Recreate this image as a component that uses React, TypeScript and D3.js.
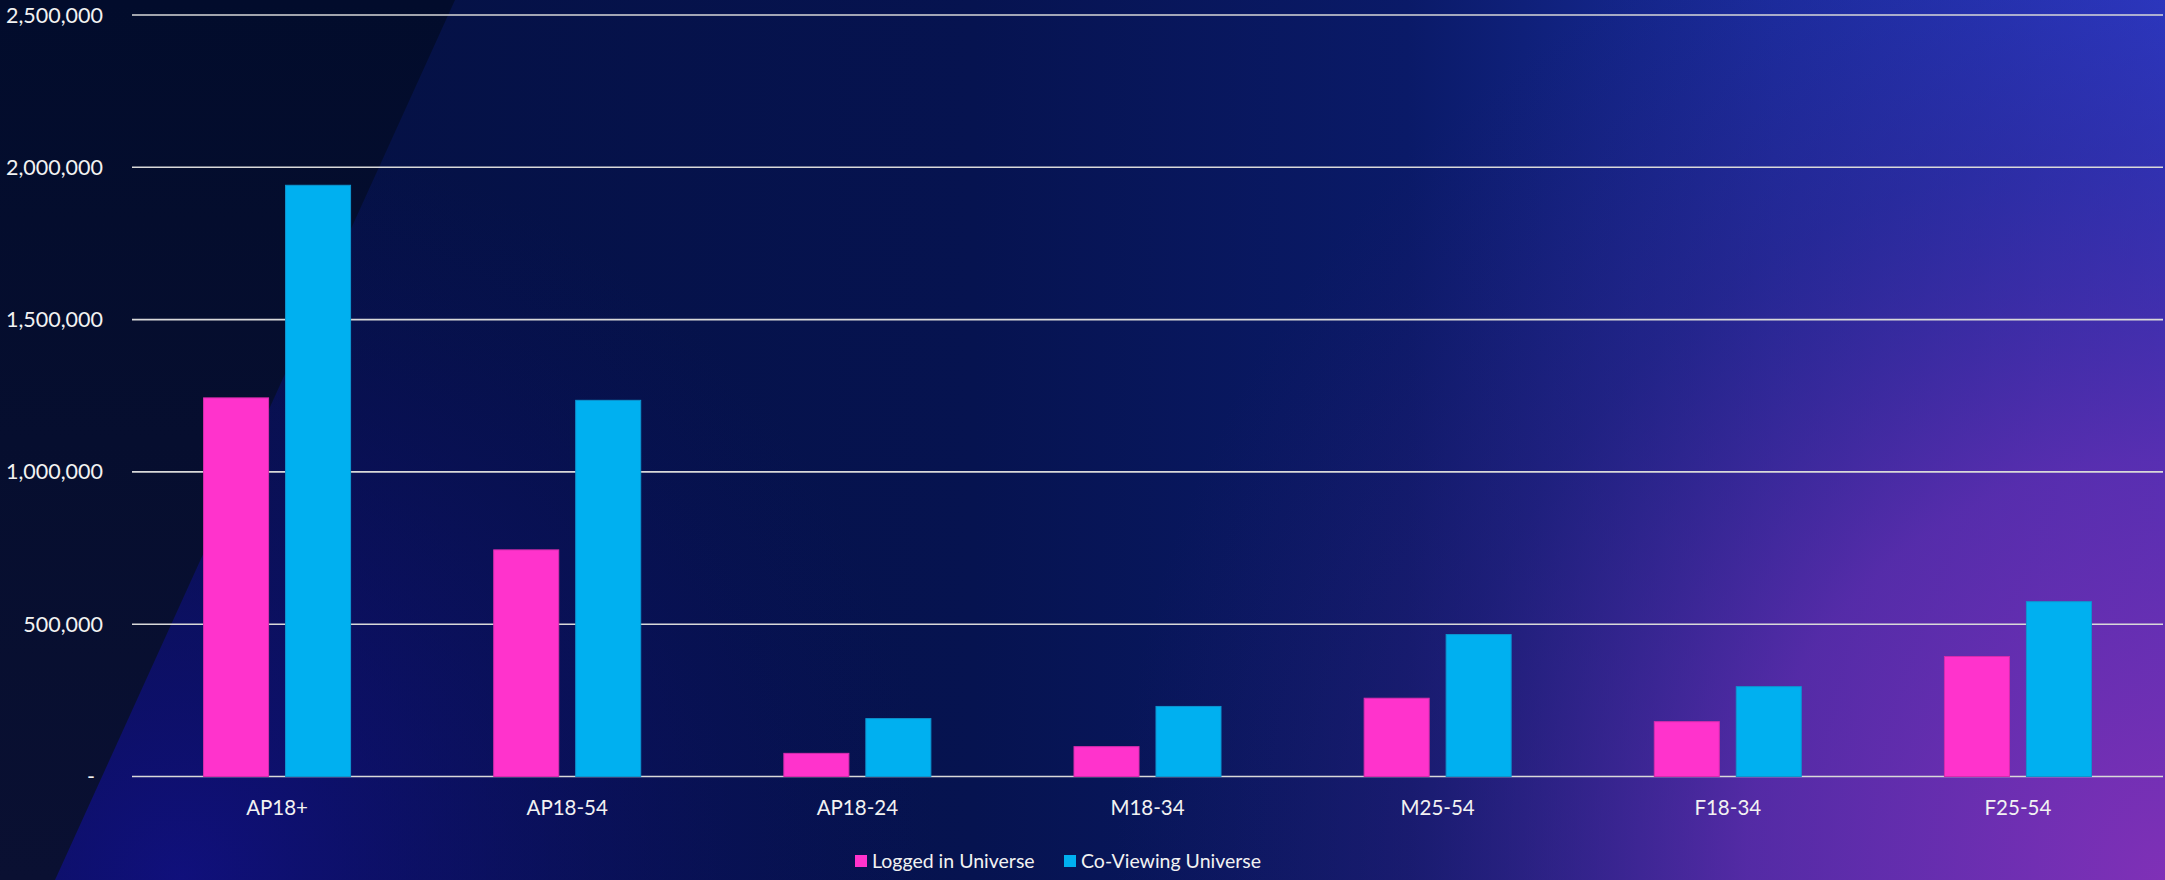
import * as d3 from 'd3';

const categories = ['AP18+', 'AP18-54', 'AP18-24', 'M18-34', 'M25-54', 'F18-34', 'F25-54'];
const seriesNames = ['Logged in Universe', 'Co-Viewing Universe'];
const loggedIn = [1243000, 744000, 76000, 98000, 257000, 180000, 394000];
const coViewing = [1941000, 1235000, 190000, 230000, 466000, 295000, 574000];
const yTicks = [0, 500000, 1000000, 1500000, 2000000, 2500000];
const seriesColors = ['#ff33cc', '#00b0f0'];
const seriesStrokes = ['#d82cae', '#0d95d0'];

const W = 2165;
const H = 880;
const margin = { top: 15, right: 2, bottom: 104, left: 132 };
const FONT = 'Lato, "Open Sans", sans-serif';

export default function App() {
  const x0 = d3
    .scaleBand()
    .domain(categories)
    .range([margin.left, W - margin.right])
    .paddingInner(0)
    .paddingOuter(0);

  const x1 = d3
    .scaleBand()
    .domain(seriesNames)
    .range([0, x0.bandwidth()])
    .paddingInner(0.207)
    .paddingOuter(0.873);

  const y = d3
    .scaleLinear()
    .domain([0, 2500000])
    .range([H - margin.bottom + 0.5, margin.top]);

  const fmt = d3.format(',');
  const values = [loggedIn, coViewing];

  return (
    <div style={{ position: 'absolute', left: 0, top: 0, width: W, height: H }}>
      <svg width={W} height={H} style={{ display: 'block' }}>
        <defs>
          <linearGradient id="bgBase" x1="0" y1="0" x2="1" y2="0">
            <stop offset="0" stopColor="#04103f" />
            <stop offset="0.45" stopColor="#061350" />
            <stop offset="0.65" stopColor="#0a1a68" />
            <stop offset="0.82" stopColor="#1a2da0" />
            <stop offset="1" stopColor="#2a3ccc" />
          </linearGradient>
          <radialGradient id="bgPurple" gradientUnits="userSpaceOnUse" cx={W} cy={H} r={1050}>
            <stop offset="0" stopColor="#8230b6" stopOpacity={0.97} />
            <stop offset="0.4" stopColor="#6a2aa8" stopOpacity={0.72} />
            <stop offset="0.7" stopColor="#3a1e80" stopOpacity={0.35} />
            <stop offset="1" stopColor="#2a1a70" stopOpacity={0} />
          </radialGradient>
          <radialGradient id="bgBlue" gradientUnits="userSpaceOnUse" cx={180} cy={H} r={760}>
            <stop offset="0" stopColor="#13108a" stopOpacity={0.8} />
            <stop offset="0.6" stopColor="#100e70" stopOpacity={0.35} />
            <stop offset="1" stopColor="#0c0e60" stopOpacity={0} />
          </radialGradient>
          <linearGradient id="bgDark" x1="0" y1="0" x2="0" y2="1">
            <stop offset="0" stopColor="#020c2c" />
            <stop offset="1" stopColor="#0a1032" />
          </linearGradient>
        </defs>

        {/* background */}
        <rect x={0} y={0} width={W} height={H} fill="url(#bgBase)" />
        <rect x={0} y={0} width={W} height={H} fill="url(#bgBlue)" />
        <rect x={0} y={0} width={W} height={H} fill="url(#bgPurple)" />
        <polygon points={`0,0 455,0 55,${H} 0,${H}`} fill="url(#bgDark)" />

        {/* gridlines */}
        {yTicks.map((t) => (
          <line
            key={t}
            x1={margin.left}
            x2={W - margin.right}
            y1={y(t)}
            y2={y(t)}
            stroke="#d9d9d9"
            strokeWidth={1.6}
          />
        ))}

        {/* y tick labels */}
        {yTicks.map((t) => (
          <text
            key={t}
            x={t === 0 ? 95 : 103}
            y={y(t)}
            dy="0.35em"
            textAnchor="end"
            fill="#f2f2f2"
            fontFamily={FONT}
            fontSize={21.5}
          >
            {t === 0 ? '-' : fmt(t)}
          </text>
        ))}

        {/* bars */}
        {categories.map((c, i) => (
          <g key={c} transform={`translate(${x0(c)},0)`}>
            {seriesNames.map((s, si) => (
              <rect
                key={s}
                x={x1(s)}
                y={y(values[si][i])}
                width={x1.bandwidth()}
                height={y(0) - y(values[si][i])}
                fill={seriesColors[si]}
                stroke={seriesStrokes[si]}
                strokeWidth={1}
              />
            ))}
          </g>
        ))}

        {/* category labels */}
        {categories.map((c) => (
          <text
            key={c}
            x={(x0(c) as number) + x0.bandwidth() / 2}
            y={815}
            textAnchor="middle"
            fill="#f2f2f2"
            fontFamily={FONT}
            fontSize={20.5}
          >
            {c}
          </text>
        ))}

        {/* legend */}
        {seriesNames.map((s, si) => {
          const lx = si === 0 ? 855 : 1064;
          return (
            <g key={s}>
              <rect x={lx} y={855} width={12} height={12} fill={seriesColors[si]} />
              <text
                x={lx + 17}
                y={868}
                fill="#f2f2f2"
                fontFamily={FONT}
                fontSize={19.5}
              >
                {s}
              </text>
            </g>
          );
        })}
      </svg>
    </div>
  );
}
